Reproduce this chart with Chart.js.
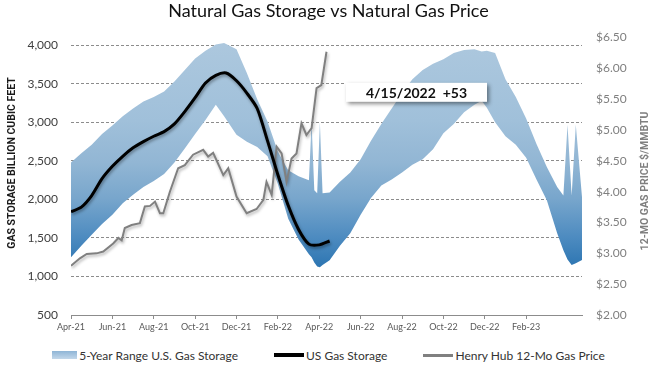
<!DOCTYPE html>
<html lang="en">
<head>
<meta charset="UTF-8" />
<title>Natural Gas Storage vs Natural Gas Price</title>
<script src="https://cdn.jsdelivr.net/npm/chart.js"></script>
<style>
  html, body { margin: 0; padding: 0; background: #fff; }
  #wrap { width: 657px; height: 376px; position: relative; font-family: Lato, "Liberation Sans", Arial, sans-serif; }
  #chartBox { width: 657px; height: 340px; position: relative; }
  #legend { position: absolute; left: 0; top: 340px; width: 657px; height: 30px;
            display: flex; justify-content: center; align-items: center; gap: 36px;
            font-size: 12px; color: #333; }
  .item { display: flex; align-items: center; }
  .swatch { display: inline-block; margin-right: 2px; }
</style>
</head>
<body>
<div id="wrap">
  <div id="chartBox"><canvas id="chart"></canvas></div>
  <div id="legend"></div>
</div>
<script>
// x values are months after 1 Apr 2021
const monthLabels = ['Apr-21','Jun-21','Aug-21','Oct-21','Dec-21','Feb-22','Apr-22','Jun-22','Aug-22','Oct-22','Dec-22','Feb-23'];
const storageTicks = [500, 1000, 1500, 2000, 2500, 3000, 3500, 4000];
const priceTicks = [2, 2.5, 3, 3.5, 4, 4.5, 5, 5.5, 6, 6.5];

// 5-year range (Bcf)
const bandMonth = [0, 0.5, 1, 1.5, 2, 2.5, 3, 3.5, 4, 4.5, 5, 5.5, 6, 6.5, 7, 7.4, 8, 8.5, 9, 9.5, 10, 10.5, 11, 11.5,
  11.63, 11.76, 11.9, 12.03, 12.16, 12.5, 13, 13.5, 14, 14.5, 15, 15.5, 16, 16.5, 17, 17.5, 18, 18.5, 19, 19.5,
  19.85, 20.1, 20.5, 21, 21.5, 22, 22.5, 23, 23.5, 23.8, 24, 24.2, 24.4, 24.7];
const bandLow = [1250, 1400, 1540, 1680, 1800, 1950, 2060, 2160, 2240, 2330, 2480, 2660, 2850, 3030, 3230, 3080, 2840, 2750, 2680, 2560, 2200, 1750, 1480, 1290,
  1250, 1180, 1130, 1120, 1150, 1210, 1400, 1560, 1800, 2020, 2180, 2260, 2350, 2450, 2520, 2650, 2860, 2980, 3130, 3230,
  3280, 3190, 3000, 2820, 2710, 2540, 2260, 1990, 1560, 1340, 1220, 1150, 1170, 1215];
const bandHigh = [2480, 2600, 2710, 2850, 2960, 3080, 3180, 3270, 3330, 3400, 3530, 3680, 3830, 3930, 4010, 4030, 3950, 3640, 3300, 3010, 2620, 2380, 2300, 2250,
  3000, 2120, 2080, 3000, 2080, 2090, 2230, 2350, 2520, 2760, 2980, 3180, 3380, 3560, 3680, 3760, 3820, 3900, 3940, 3950,
  3920, 3930, 3900, 3560, 3330, 3050, 2720, 2420, 2160, 2050, 2970, 2050, 2970, 2030];

// US storage (Bcf)
const storageMonth = [0, 0.5, 1, 1.5, 2, 2.5, 3, 3.5, 4, 4.5, 5, 5.5, 6, 6.5, 7, 7.5, 8, 8.5, 9, 9.5, 10, 10.5, 11, 11.5, 12, 12.5];
const storage = [1840, 1900, 2050, 2270, 2430, 2560, 2670, 2750, 2820, 2880, 2980, 3140, 3320, 3510, 3610, 3640, 3540, 3380, 3180, 2760, 2320, 1920, 1610, 1420, 1410, 1460];

// Henry Hub 12-month strip ($/MMBtu)
const priceMonth = [0, 0.43, 0.76, 1.24, 1.56, 2.04, 2.29, 2.45, 2.6, 2.93, 3.33, 3.57, 3.82, 4.06, 4.3, 4.46, 4.78, 5.18, 5.5, 5.9,
  6.39, 6.63, 6.87, 7.36, 7.6, 8, 8.49, 8.97, 9.3, 9.45, 9.7, 9.94, 10.18, 10.42, 10.66, 10.9, 11.14, 11.38, 11.63, 11.87, 12.1, 12.35];
const price = [2.80, 2.92, 2.99, 3.00, 3.03, 3.16, 3.25, 3.21, 3.41, 3.46, 3.49, 3.76, 3.77, 3.84, 3.65, 3.65, 4.00, 4.38, 4.43, 4.60,
  4.68, 4.57, 4.63, 4.27, 4.38, 3.92, 3.65, 3.72, 3.87, 4.16, 3.95, 4.73, 4.62, 4.16, 4.54, 4.62, 5.11, 4.92, 5.03, 5.68, 5.73, 6.27];

const noteText = '4/15/2022  +53';
const noteMonth = 16.7;
const noteValue = 3390;

const pts = (xs, ys) => xs.map((x, i) => ({ x: x, y: ys[i] }));

function bandFill(ctx) {
  const area = ctx.chart.chartArea;
  if (!area) return '#9dbdd6';
  const g = ctx.chart.ctx.createLinearGradient(0, area.top, 0, area.bottom);
  g.addColorStop(0, '#adc8de');
  g.addColorStop(0.3, '#a0c0da');
  g.addColorStop(0.45, '#92b6d4');
  g.addColorStop(0.58, '#78a6cc');
  g.addColorStop(0.72, '#4d8bc0');
  g.addColorStop(0.82, '#2f77b3');
  g.addColorStop(1, '#2a6fa8');
  return g;
}

const shadowPlugin = {
  id: 'shadow',
  beforeDatasetDraw(chart, args) {
    const ds = chart.data.datasets[args.index];
    if (!ds.shadow) return;
    const c = chart.ctx;
    c.save();
    c.shadowColor = ds.shadow;
    c.shadowBlur = 3;
    c.shadowOffsetX = 1;
    c.shadowOffsetY = 2;
  },
  afterDatasetDraw(chart, args) {
    if (chart.data.datasets[args.index].shadow) chart.ctx.restore();
  }
};

const textPlugin = {
  id: 'texts',
  afterDatasetsDraw(chart) {
    const { ctx, scales } = chart;
    ctx.save();
    // annotation box
    ctx.font = 'bold 14px Lato, "Liberation Sans", Arial, sans-serif';
    const cx = scales.x.getPixelForValue(noteMonth);
    const cy = scales.y.getPixelForValue(noteValue);
    const w = ctx.measureText(noteText).width + 40, h = 19;
    ctx.shadowColor = 'rgba(0,0,0,0.45)';
    ctx.shadowBlur = 4;
    ctx.shadowOffsetX = 2;
    ctx.shadowOffsetY = 2;
    ctx.fillStyle = '#fff';
    ctx.fillRect(cx - w / 2, cy - h / 2, w, h);
    ctx.shadowColor = 'transparent';
    ctx.fillStyle = '#111';
    ctx.textAlign = 'center';
    ctx.textBaseline = 'middle';
    ctx.fillText(noteText, cx, cy + 1);

    // axis titles, both reading bottom to top
    ctx.font = 'bold 10.5px Roboto, "Liberation Sans", Arial, sans-serif';
    ctx.save();
    ctx.translate(12, 163);
    ctx.rotate(-Math.PI / 2);
    ctx.fillStyle = '#1a1a1a';
    ctx.fillText('GAS STORAGE BILLION CUBIC FEET', 0, 0);
    ctx.restore();
    ctx.save();
    ctx.translate(645, 181);
    ctx.rotate(-Math.PI / 2);
    ctx.fillStyle = '#7f7f7f';
    ctx.fillText('12-MO GAS PRICE $/MMBTU', 0, 0);
    ctx.restore();
    ctx.restore();
  }
};

Chart.defaults.font.family = 'Lato, "Liberation Sans", Arial, sans-serif';

const chart = new Chart(document.getElementById('chart'), {
  type: 'line',
  data: {
    datasets: [
      { label: 'band low', data: pts(bandMonth, bandLow), yAxisID: 'y', borderWidth: 0, pointRadius: 0, fill: false, order: 3 },
      { label: '5-Year Range U.S. Gas Storage', data: pts(bandMonth, bandHigh), yAxisID: 'y', borderWidth: 0, pointRadius: 0,
        fill: '-1', backgroundColor: bandFill, order: 2 },
      { label: 'Henry Hub 12-Mo Gas Price', data: pts(priceMonth, price), yAxisID: 'y1', borderColor: '#808080', borderWidth: 2,
        pointRadius: 0, fill: false, order: 1, shadow: 'rgba(0,0,0,0.3)' },
      { label: 'US Gas Storage', data: pts(storageMonth, storage), yAxisID: 'y', borderColor: '#000', borderWidth: 3,
        pointRadius: 0, fill: false, tension: 0.25, order: 0, shadow: 'rgba(0,0,0,0.35)' }
    ]
  },
  options: {
    responsive: true,
    maintainAspectRatio: false,
    animation: false,
    layout: { padding: 0 },
    plugins: {
      legend: { display: false },
      tooltip: { enabled: false },
      title: {
        display: true,
        text: 'Natural Gas Storage vs Natural Gas Price',
        color: '#111',
        font: { size: 18, weight: 'normal' },
        padding: { top: 0, bottom: 16 }
      }
    },
    scales: {
      x: {
        type: 'linear', min: 0, max: 24.7,
        afterBuildTicks: a => { a.ticks = monthLabels.map((_, i) => ({ value: i * 2 })); },
        ticks: { callback: (v, i) => monthLabels[i] || '', font: { size: 9 }, color: '#595959', maxRotation: 0, autoSkip: false, padding: 3 },
        grid: { drawOnChartArea: false, tickLength: 4, color: '#8c8c8c' },
        border: { color: '#8c8c8c' },
        afterFit: s => { s.height = 25; }
      },
      y: {
        position: 'left', min: 500, max: 4100,
        afterBuildTicks: a => { a.ticks = storageTicks.map(v => ({ value: v })); },
        ticks: { callback: v => v.toLocaleString('en-US'), font: { size: 12 }, color: '#404040', padding: 13 },
        grid: { color: '#8c8c8c', drawTicks: false },
        border: { display: false, dash: [3, 2] },
        afterFit: s => { s.width = 71; }
      },
      y1: {
        position: 'right', min: 2, max: 6.5,
        afterBuildTicks: a => { a.ticks = priceTicks.map(v => ({ value: v })); },
        ticks: { callback: v => '$' + v.toFixed(2), font: { size: 12 }, color: '#7f7f7f', padding: 14 },
        grid: { display: false, drawTicks: false },
        border: { display: false },
        afterFit: s => { s.width = 75; }
      }
    }
  },
  plugins: [shadowPlugin, textPlugin]
});

// HTML legend built from the datasets
const legendBox = document.getElementById('legend');
const swatches = {
  '5-Year Range U.S. Gas Storage': 'width:25px;height:8px;background:linear-gradient(#8fb5d6,#c2d7ea);',
  'US Gas Storage': 'width:30px;height:4px;background:#000;',
  'Henry Hub 12-Mo Gas Price': 'width:30px;height:3px;background:#808080;'
};
['5-Year Range U.S. Gas Storage', 'US Gas Storage', 'Henry Hub 12-Mo Gas Price'].forEach(name => {
  const ds = chart.data.datasets.find(d => d.label === name);
  const item = document.createElement('div');
  item.className = 'item';
  item.innerHTML = '<span class="swatch" style="' + swatches[name] + '"></span><span>' + ds.label + '</span>';
  legendBox.appendChild(item);
});
</script>
</body>
</html>
